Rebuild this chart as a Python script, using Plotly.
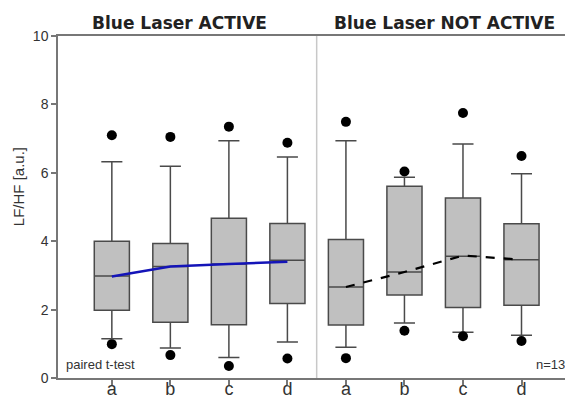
import plotly.graph_objects as go

# ---- data ----
categories = ["a", "b", "c", "d", "a", "b", "c", "d"]
q1 = [1.98, 1.63, 1.56, 2.18, 1.55, 2.43, 2.06, 2.13]
median = [2.98, 3.26, 3.33, 3.44, 2.66, 3.10, 3.56, 3.46]
q3 = [4.00, 3.93, 4.67, 4.52, 4.05, 5.61, 5.26, 4.51]
lower_whisker = [1.15, 0.88, 0.60, 1.05, 0.90, 1.61, 1.34, 1.25]
upper_whisker = [6.32, 6.19, 6.94, 6.46, 6.94, 5.87, 6.84, 5.97]
outlier_high = [7.10, 7.05, 7.35, 6.88, 7.49, 6.04, 7.75, 6.49]
outlier_low = [0.99, 0.67, 0.35, 0.57, 0.58, 1.38, 1.22, 1.08]
trend_active = [2.97, 3.26, 3.33, 3.40]
trend_not_active = [2.66, 3.10, 3.58, 3.46]

positions = list(range(len(categories)))

fig = go.Figure()

fig.add_trace(go.Box(
    x=positions, q1=q1, median=median, q3=q3,
    lowerfence=lower_whisker, upperfence=upper_whisker,
    width=0.6, whiskerwidth=0.6,
    fillcolor="#c0c0c0",
    line=dict(color="#4a4a4a", width=1.5),
    boxpoints=False, showlegend=False, hoverinfo="skip",
))

fig.add_trace(go.Scatter(
    x=positions + positions, y=outlier_high + outlier_low,
    mode="markers", marker=dict(color="black", size=10),
    showlegend=False, hoverinfo="skip",
))

fig.add_trace(go.Scatter(
    x=positions[:4], y=trend_active, mode="lines",
    line=dict(color="#1414b8", width=2.5), showlegend=False,
))
fig.add_trace(go.Scatter(
    x=positions[4:], y=trend_not_active, mode="lines",
    line=dict(color="black", width=2.2, dash="dash"), showlegend=False,
))

# divider between groups
fig.add_shape(type="line", x0=3.5, x1=3.5, y0=0, y1=10, xref="x", yref="y",
              line=dict(color="#c8c8c8", width=1.5), layer="below")

# the page body adds an 8px margin, so the figure is sized 8px smaller
axis_col = "#777777"
fig.update_layout(
    width=565, height=391,
    margin=dict(l=50, r=0, t=28, b=21),
    paper_bgcolor="white", plot_bgcolor="white",
    font=dict(family="Liberation Sans, Arial, sans-serif", color="#333333"),
    xaxis=dict(
        range=[-0.92, 7.88], tickvals=positions, ticktext=categories,
        showgrid=False, zeroline=False, showline=True, mirror=True,
        linecolor=axis_col, linewidth=1.5, ticks="outside", ticklen=5,
        tickcolor=axis_col, tickwidth=1.5, tickfont=dict(size=18, color="#333333"),
        ticklabelstandoff=-11,
        automargin=False,
    ),
    yaxis=dict(
        range=[0, 10], tickvals=[0, 2, 4, 6, 8, 10],
        showgrid=False, zeroline=False, showline=True,
        linecolor=axis_col, linewidth=1.5, ticks="outside", ticklen=5,
        tickcolor=axis_col, tickwidth=1.5, tickfont=dict(size=14, color="#333333"),
        automargin=False,
    ),
)

fig.add_annotation(text="LF/HF [a.u.]", x=-40 / 515, xref="paper", y=5.58, yref="y",
                   showarrow=False, textangle=-90, xanchor="center", yanchor="middle",
                   font=dict(size=15, color="#333333"))

fig.add_annotation(text="<b>Blue Laser ACTIVE</b>", x=1.16, y=10, xref="x", yref="y",
                   yshift=1, yanchor="bottom", showarrow=False,
                   font=dict(size=17, color="#222222", family="DejaVu Sans, sans-serif"))
fig.add_annotation(text="<b>Blue Laser NOT ACTIVE</b>", x=5.68, y=10, xref="x", yref="y",
                   yshift=1, yanchor="bottom", showarrow=False,
                   font=dict(size=17, color="#222222", family="DejaVu Sans, sans-serif"))
fig.add_annotation(text="paired t-test", x=0, y=0, xref="paper", yref="y",
                   xshift=6, yshift=4, xanchor="left", yanchor="bottom", showarrow=False,
                   font=dict(size=13, color="#333333"))
fig.add_annotation(text="n=13", x=1, y=0, xref="paper", yref="y",
                   xshift=-6, yshift=4, xanchor="right", yanchor="bottom", showarrow=False,
                   font=dict(size=13, color="#333333"))

fig.write_html("out.html")
